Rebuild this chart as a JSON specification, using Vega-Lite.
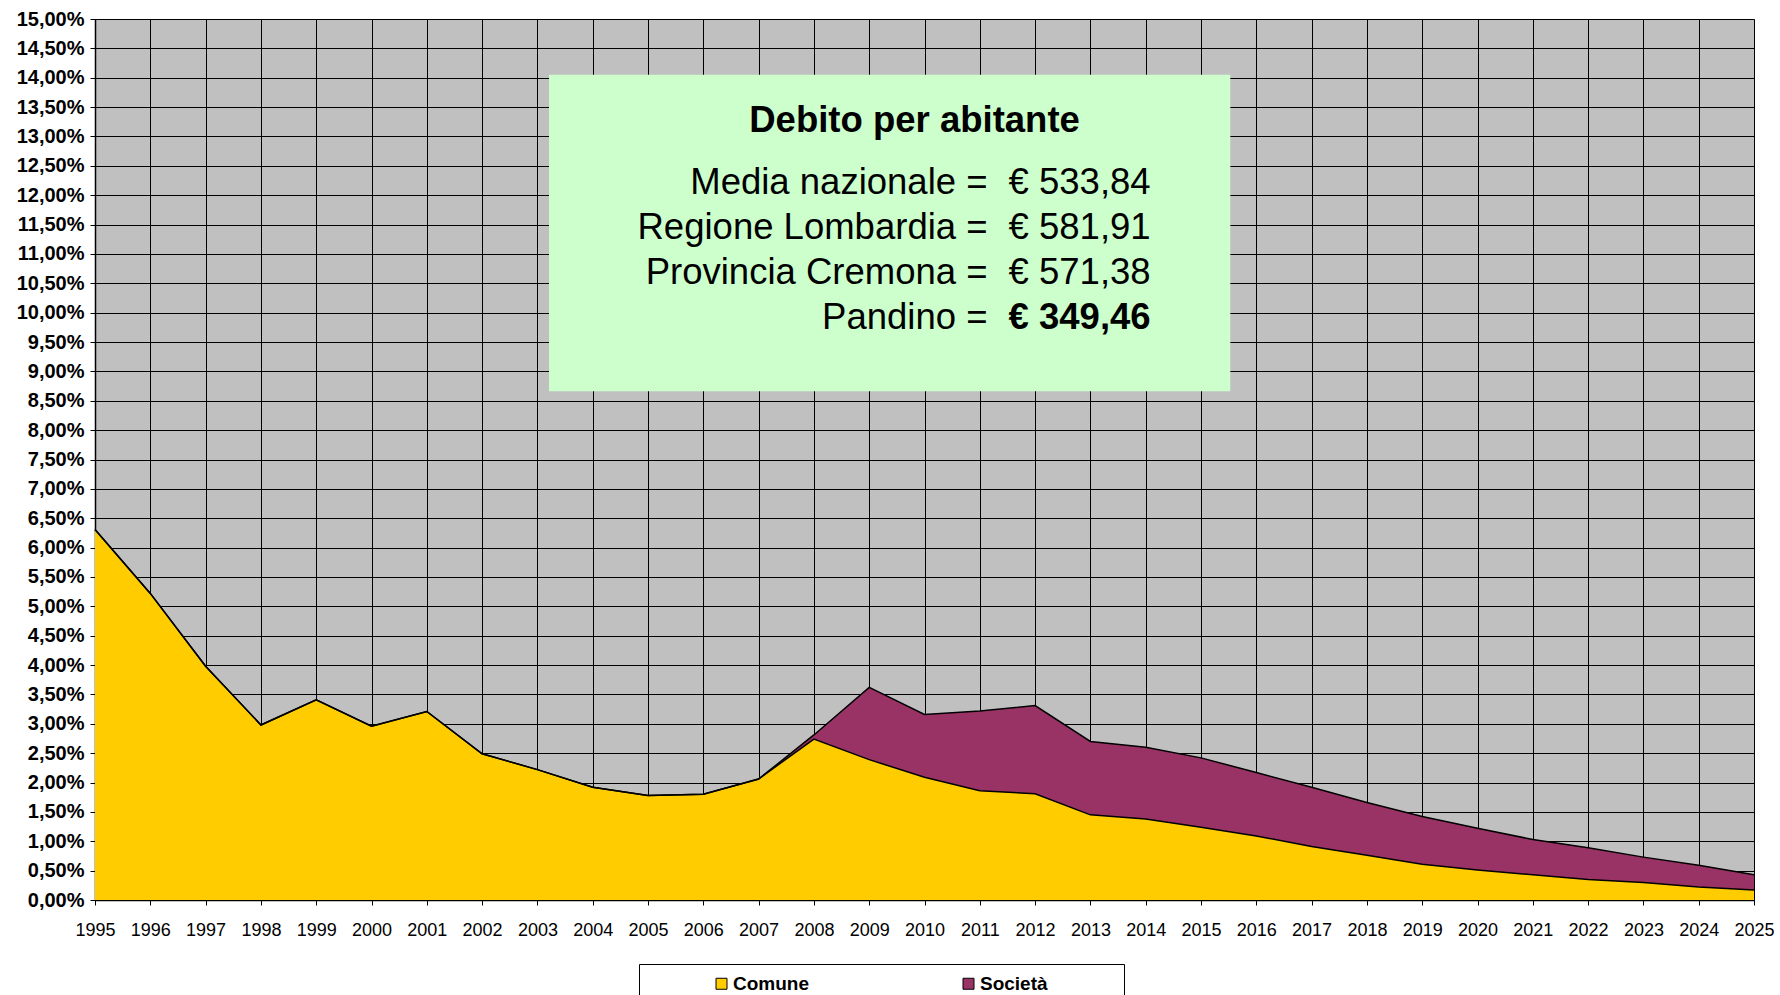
{
  "$schema": "https://vega.github.io/schema/vega-lite/v6.json",
  "width": 1659,
  "height": 881,
  "autosize": {"type": "none"},
  "padding": {"left": 95, "top": 19, "right": 26, "bottom": 95},
  "background": "white",
  "config": {
    "font": "Liberation Sans",
    "view": {"fill": "#C0C0C0", "stroke": "#808080", "strokeWidth": 1}
  },
  "datasets": {
    "serie": [
      {"anno": 1995, "serie": "Comune", "valore": 6.31},
      {"anno": 1996, "serie": "Comune", "valore": 5.22},
      {"anno": 1997, "serie": "Comune", "valore": 3.98},
      {"anno": 1998, "serie": "Comune", "valore": 2.98},
      {"anno": 1999, "serie": "Comune", "valore": 3.41},
      {"anno": 2000, "serie": "Comune", "valore": 2.96},
      {"anno": 2001, "serie": "Comune", "valore": 3.21},
      {"anno": 2002, "serie": "Comune", "valore": 2.49},
      {"anno": 2003, "serie": "Comune", "valore": 2.22},
      {"anno": 2004, "serie": "Comune", "valore": 1.92},
      {"anno": 2005, "serie": "Comune", "valore": 1.78},
      {"anno": 2006, "serie": "Comune", "valore": 1.80},
      {"anno": 2007, "serie": "Comune", "valore": 2.06},
      {"anno": 2008, "serie": "Comune", "valore": 2.74},
      {"anno": 2009, "serie": "Comune", "valore": 2.39},
      {"anno": 2010, "serie": "Comune", "valore": 2.09},
      {"anno": 2011, "serie": "Comune", "valore": 1.86},
      {"anno": 2012, "serie": "Comune", "valore": 1.81},
      {"anno": 2013, "serie": "Comune", "valore": 1.45},
      {"anno": 2014, "serie": "Comune", "valore": 1.38},
      {"anno": 2015, "serie": "Comune", "valore": 1.24},
      {"anno": 2016, "serie": "Comune", "valore": 1.09},
      {"anno": 2017, "serie": "Comune", "valore": 0.91},
      {"anno": 2018, "serie": "Comune", "valore": 0.76},
      {"anno": 2019, "serie": "Comune", "valore": 0.61},
      {"anno": 2020, "serie": "Comune", "valore": 0.51},
      {"anno": 2021, "serie": "Comune", "valore": 0.43},
      {"anno": 2022, "serie": "Comune", "valore": 0.35},
      {"anno": 2023, "serie": "Comune", "valore": 0.30},
      {"anno": 2024, "serie": "Comune", "valore": 0.22},
      {"anno": 2025, "serie": "Comune", "valore": 0.17},
      {"anno": 1995, "serie": "Società", "valore": 0},
      {"anno": 1996, "serie": "Società", "valore": 0},
      {"anno": 1997, "serie": "Società", "valore": 0},
      {"anno": 1998, "serie": "Società", "valore": 0},
      {"anno": 1999, "serie": "Società", "valore": 0},
      {"anno": 2000, "serie": "Società", "valore": 0},
      {"anno": 2001, "serie": "Società", "valore": 0},
      {"anno": 2002, "serie": "Società", "valore": 0},
      {"anno": 2003, "serie": "Società", "valore": 0},
      {"anno": 2004, "serie": "Società", "valore": 0},
      {"anno": 2005, "serie": "Società", "valore": 0},
      {"anno": 2006, "serie": "Società", "valore": 0},
      {"anno": 2007, "serie": "Società", "valore": 0},
      {"anno": 2008, "serie": "Società", "valore": 0.07},
      {"anno": 2009, "serie": "Società", "valore": 1.23},
      {"anno": 2010, "serie": "Società", "valore": 1.07},
      {"anno": 2011, "serie": "Società", "valore": 1.36},
      {"anno": 2012, "serie": "Società", "valore": 1.50},
      {"anno": 2013, "serie": "Società", "valore": 1.25},
      {"anno": 2014, "serie": "Società", "valore": 1.22},
      {"anno": 2015, "serie": "Società", "valore": 1.18},
      {"anno": 2016, "serie": "Società", "valore": 1.08},
      {"anno": 2017, "serie": "Società", "valore": 1.01},
      {"anno": 2018, "serie": "Società", "valore": 0.90},
      {"anno": 2019, "serie": "Società", "valore": 0.81},
      {"anno": 2020, "serie": "Società", "valore": 0.71},
      {"anno": 2021, "serie": "Società", "valore": 0.60},
      {"anno": 2022, "serie": "Società", "valore": 0.54},
      {"anno": 2023, "serie": "Società", "valore": 0.43},
      {"anno": 2024, "serie": "Società", "valore": 0.37},
      {"anno": 2025, "serie": "Società", "valore": 0.26}
    ],
    "riquadro": [
      {"voce": "Media nazionale =", "importo": "€ 533,84", "riga": 0},
      {"voce": "Regione Lombardia =", "importo": "€ 581,91", "riga": 1},
      {"voce": "Provincia Cremona =", "importo": "€ 571,38", "riga": 2},
      {"voce": "Pandino =", "importo": "€ 349,46", "riga": 3}
    ]
  },
  "layer": [
    {
      "data": {"name": "serie"},
      "mark": {"type": "area", "opacity": 1},
      "encoding": {
        "x": {
          "field": "anno", "type": "quantitative",
          "scale": {"domain": [1995, 2025], "nice": false, "zero": false},
          "axis": {
            "title": null, "format": "d", "tickCount": 30, "labelFlush": false, "labelOverlap": false,
            "labelFontSize": 18, "labelColor": "black", "labelPadding": 16,
            "tickColor": "black", "tickSize": 5, "domainColor": "black", "domainWidth": 1.5,
            "grid": true, "gridColor": "black", "gridWidth": 1, "gridOpacity": 1
          }
        },
        "y": {
          "field": "valore", "type": "quantitative", "stack": "zero",
          "scale": {"domain": [0, 15], "nice": false},
          "axis": {
            "title": null, "tickCount": 30, "labelOverlap": false, "labelFlush": false,
            "labelExpr": "replace(format(datum.value, '.2f'), '.', ',') + '%'",
            "labelFontSize": 20, "labelFontWeight": "bold", "labelColor": "black", "labelPadding": 6,
            "tickColor": "black", "tickSize": 5, "domainColor": "black", "domainWidth": 1.5,
            "grid": true, "gridColor": "black", "gridWidth": 1, "gridOpacity": 1
          }
        },
        "color": {
          "field": "serie", "type": "nominal",
          "scale": {"domain": ["Comune", "Società"], "range": ["#FFCC00", "#993366"]},
          "legend": {
            "orient": "none", "legendX": 544, "legendY": 945, "direction": "horizontal",
            "title": "\u00a0", "titleOrient": "right", "titlePadding": 66,
            "fillColor": "white", "strokeColor": "black", "padding": 10,
            "symbolType": "square", "symbolSize": 121, "symbolStrokeColor": "black", "symbolStrokeWidth": 1,
            "symbolOpacity": 1,
            "labelFontSize": 19, "labelFontWeight": "bold", "labelColor": "black",
            "symbolOffset": 63, "labelOffset": 2, "columnPadding": 87,
            "encode": {"symbols": {"update": {"stroke": {"value": "black"}, "strokeWidth": {"value": 1}}}}
          }
        },
        "order": {"field": "serie", "sort": "ascending"}
      }
    },
    {
      "data": {"name": "serie"},
      "transform": [
        {"stack": "valore", "groupby": ["anno"], "sort": [{"field": "serie", "order": "ascending"}], "as": ["base", "cima"]}
      ],
      "mark": {"type": "line", "color": "black", "strokeWidth": 1.5},
      "encoding": {
        "x": {"field": "anno", "type": "quantitative"},
        "y": {"field": "cima", "type": "quantitative"},
        "detail": {"field": "serie"}
      }
    },
    {
      "data": {"values": [{}]},
      "mark": {"type": "rect", "fill": "#CCFFCC"},
      "encoding": {
        "x": {"datum": 2003.21}, "x2": {"datum": 2015.53},
        "y": {"datum": 14.05}, "y2": {"datum": 8.66}
      }
    },
    {
      "data": {"values": [{"titolo": "Debito per abitante"}]},
      "mark": {"type": "text", "fontSize": 36.5, "fontWeight": "bold", "align": "center", "baseline": "middle", "color": "black"},
      "encoding": {
        "x": {"datum": 2009.82}, "y": {"datum": 13.26},
        "text": {"field": "titolo"}
      }
    },
    {
      "data": {"name": "riquadro"},
      "mark": {"type": "text", "fontSize": 36.5, "align": "right", "baseline": "middle", "color": "black"},
      "encoding": {
        "x": {"datum": 2011.14}, "y": {"datum": 12.21},
        "yOffset": {"field": "riga", "type": "quantitative", "scale": {"domain": [0, 3], "range": [0, 135]}},
        "text": {"field": "voce"}
      }
    },
    {
      "data": {"name": "riquadro"},
      "transform": [{"filter": "datum.riga < 3"}],
      "mark": {"type": "text", "fontSize": 36.5, "align": "left", "baseline": "middle", "color": "black"},
      "encoding": {
        "x": {"datum": 2011.52}, "y": {"datum": 12.21},
        "yOffset": {"field": "riga", "type": "quantitative", "scale": {"domain": [0, 3], "range": [0, 135]}},
        "text": {"field": "importo"}
      }
    },
    {
      "data": {"name": "riquadro"},
      "transform": [{"filter": "datum.riga == 3"}],
      "mark": {"type": "text", "fontSize": 36.5, "fontWeight": "bold", "align": "left", "baseline": "middle", "color": "black"},
      "encoding": {
        "x": {"datum": 2011.52}, "y": {"datum": 12.21},
        "yOffset": {"field": "riga", "type": "quantitative", "scale": {"domain": [0, 3], "range": [0, 135]}},
        "text": {"field": "importo"}
      }
    }
  ]
}
